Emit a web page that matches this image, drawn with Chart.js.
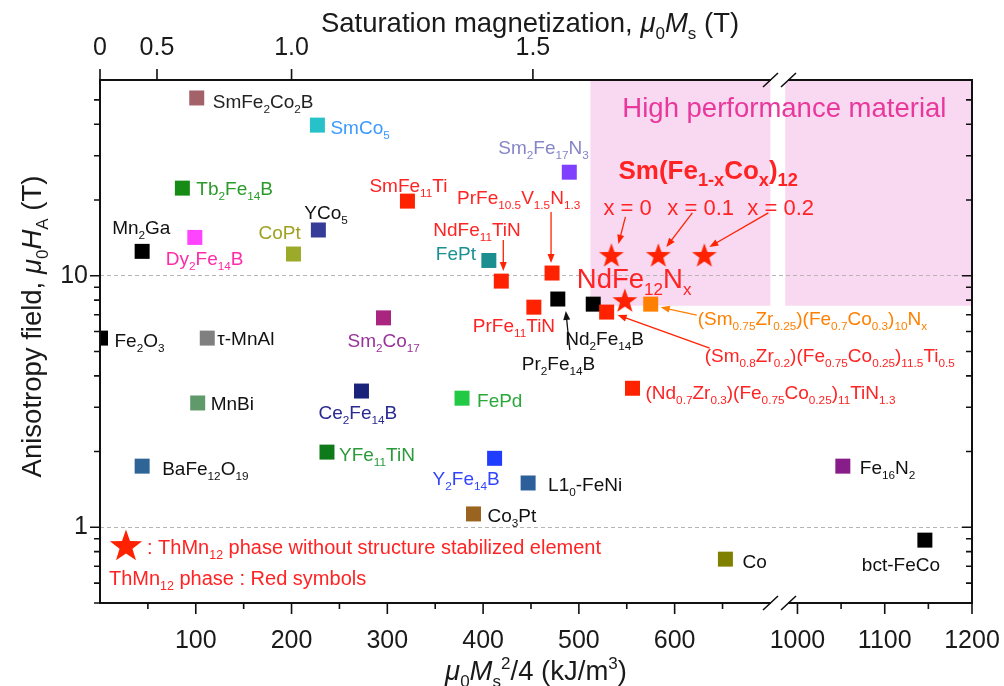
<!DOCTYPE html>
<html><head><meta charset="utf-8">
<script src="https://cdn.jsdelivr.net/npm/chart.js@4.4.1/dist/chart.umd.min.js"></script>
<style>html,body{margin:0;padding:0;background:#fff;}canvas{display:block;}</style>
</head><body>
<canvas id="c" width="1004" height="686"></canvas>
<script>
// ---------------- DATA ----------------
// materials on the left (0 – 700 kJ/m3) part of the broken x axis
const lowMsNames = ['SmFe_{2}Co_{2}B','SmCo_{5}','Tb_{2}Fe_{14}B','Mn_{2}Ga','Dy_{2}Fe_{14}B','CoPt','YCo_{5}','SmFe_{11}Ti','FePt','Sm_{2}Co_{17}',
  'Fe_{2}O_{3}','τ-MnAl','Sm_{2}Fe_{17}N_{3}','NdFe_{11}TiN','PrFe_{10.5}V_{1.5}N_{1.3}','Pr_{2}Fe_{14}B','PrFe_{11}TiN','Nd_{2}Fe_{14}B',
  '(Sm_{0.8}Zr_{0.2})(Fe_{0.75}Co_{0.25})_{11.5}Ti_{0.5}','(Sm_{0.75}Zr_{0.25})(Fe_{0.7}Co_{0.3})_{10}N_{x}','(Nd_{0.7}Zr_{0.3})(Fe_{0.75}Co_{0.25})_{11}TiN_{1.3}',
  'MnBi','Ce_{2}Fe_{14}B','FePd','YFe_{11}TiN','BaFe_{12}O_{19}','Y_{2}Fe_{14}B','L1_{0}-FeNi','Co_{3}Pt','Co'];
const lowMsEnergy = [101,227,86,44,99,202,228,321,406,296, 0.5,112,490,419,472,478,453,515, 529,575,556, 102,273,378,237,44,412,447,390,653];
const lowMsField  = [50.9,39.7,22.3,12.5,14.2,12.2,15.2,19.8,11.5,6.8, 5.65,5.65,25.8,9.52,10.25,8.08,7.5,7.71, 7.17,7.71,3.57, 3.12,3.48,3.26,1.99,1.75,1.88,1.5,1.13,0.747];
// materials on the right (1000 – 1200 kJ/m3) part
const highMsNames = ['Fe_{16}N_{2}','bct-FeCo'];
const highMsEnergy = [1052,1146];
const highMsField = [1.75,0.889];
// ThMn12 phases without stabilising element (stars)
const starNames = ['NdFe_{12}N_{x}','x = 0','x = 0.1','x = 0.2'];
const starEnergy = [548,534,583,631];
const starField = [8.0,12.1,12.1,12.1];
// axis ticks
const yTickValues = [0.5,0.6,0.7,0.8,0.9,1,2,3,4,5,6,7,8,9,10,20,30,40,50];
const yTickLabels = {1:'1',10:'10'};
const xLowTicks = [50,100,150,200,250,300,350,400,450,500,550,600,650];
const xLowLabels = {100:'100',200:'200',300:'300',400:'400',500:'500',600:'600'};
const xHighTicks = [1000,1050,1100,1150,1200];
const xHighLabels = {1000:'1000',1100:'1100',1200:'1200'};
const topTickPositions = [0,59.5,200,452];   // kJ/m3 positions of the Ms ticks
const topTickLabels = ['0','0.5','1.0','1.5'];
// high performance region (Ms > 1.6 T, HA > ~7.6 T)
const pinkStart = 512, pinkGapStart = 700, pinkGapEnd = 986, pinkFloor = 7.6;

// ---------------- STYLES ----------------
const RED = '#ff2200', RED_T = '#ff2323';
const squareColors = ['#a3626a','#27c1c9','#168c16','#000000','#ff44ff','#9caa2a','#343c98',RED,'#1b8f8f','#aa2580',
  '#000000','#808080','#8040ff',RED,RED,'#000000',RED,'#000000',RED,'#ff8000',RED,
  '#609a6b','#1a237a','#22c944','#0f7a1a','#2f6496','#1f3cff','#2d5f9a','#9a6420','#808000'];
const labelColors = ['#222','#3a9aff','#2a9a2a','#111','#ff2aa8','#a0a020','#111',RED_T,'#1a9090','#993399',
  '#111','#111','#8585c8',RED_T,RED_T,'#111',RED_T,'#111',RED_T,'#ff8000',RED_T,
  '#111','#2a2a90','#2aa83a','#2a9a3a','#111','#3344ff','#111','#111','#111'];
const labelOffsets = [[16,3],[13,2],[14,0],[-30,-24],[-29,21],[-35,-22],[-14,-18],[-38,-16],[-53,-7],[-36,22],
  [14,2],[10,0],[-71,-25],[-68,-52],[-95,-76],[-36,64],[-61,18],[-28,34],[98,43],[47,14],[13,4],
  [13,0],[-43,21],[15,2],[12,2],[20,2],[-62,20],[20,1],[14,1],[17,2]];
const lowArrows = {13:[[2,-41],[2,-10],RED], 14:[[-1,-61],[-1,-10],RED], 15:[[12,51],[8,12],'#111'],
  18:[[103,36],[11,3],RED], 19:[[46,11],[10,3],'#ff8000']};
const highColors = ['#881c88','#000000'];
const highLabelOffsets = [[17,1],[-63,24]];
const starLabelOffsets = [[-48,-22],[-8,-48],[9,-48],[43,-48]];
const starLabelSizes = [27.5,22,22,22];
const starArrows = {1:[[14,-38],[7,-11]], 2:[[34,-42],[8,-8]], 3:[[64,-42],[5,-8]]};

const FAMILY = "'Liberation Sans', Arial, Helvetica, sans-serif";
function fontStr(size, italic, bold){ return (italic?'italic ':'')+(bold?'bold ':'')+size+'px '+FAMILY; }
function parseRich(s){
  const segs=[]; let i=0, buf='';
  while(i<s.length){
    const c=s[i];
    if((c==='_'||c==='^'||c==='*') && s[i+1]==='{'){
      if(buf){segs.push({t:buf,k:'n'});buf='';}
      const j=s.indexOf('}',i+2);
      segs.push({t:s.slice(i+2,j),k:c==='_'?'sub':c==='^'?'sup':'it'});
      i=j+1;
    } else {buf+=c;i++;}
  }
  if(buf) segs.push({t:buf,k:'n'});
  return segs;
}
function drawRich(ctx, s, x, cy, size, color, align, bold, subScale){
  const ss = subScale || 0.62;
  const segs=parseRich(s); let w=0;
  const parts=segs.map(sg=>{
    const small = sg.k==='sub'||sg.k==='sup';
    const f=fontStr(small?size*ss:size, sg.k==='it', bold);
    ctx.font=f; const wd=ctx.measureText(sg.t).width; w+=wd;
    return {t:sg.t,f,wd,dy: sg.k==='sub'? size*0.26 : sg.k==='sup'? -size*0.4 : 0};
  });
  let px = align==='center'? x-w/2 : align==='right'? x-w : x;
  const base = cy + size*0.36;
  ctx.fillStyle=color; ctx.textBaseline='alphabetic'; ctx.textAlign='left';
  for(const p of parts){ ctx.font=p.f; ctx.fillText(p.t,px,base+p.dy); px+=p.wd; }
}
function arrow(ctx,x1,y1,x2,y2,color){
  const a=Math.atan2(y2-y1,x2-x1), L=9, W=3.5;
  ctx.strokeStyle=color; ctx.fillStyle=color; ctx.lineWidth=1.3;
  ctx.beginPath(); ctx.moveTo(x1,y1); ctx.lineTo(x2-L*0.7*Math.cos(a), y2-L*0.7*Math.sin(a)); ctx.stroke();
  ctx.beginPath(); ctx.moveTo(x2,y2);
  ctx.lineTo(x2-L*Math.cos(a)+W*Math.sin(a), y2-L*Math.sin(a)-W*Math.cos(a));
  ctx.lineTo(x2-L*Math.cos(a)-W*Math.sin(a), y2-L*Math.sin(a)+W*Math.cos(a));
  ctx.closePath(); ctx.fill();
}
function starPath(g, cx, cy, R){
  g.beginPath();
  for(let k=0;k<10;k++){ const r=k%2?R*0.4:R; const a=-Math.PI/2+k*Math.PI/5; g.lineTo(cx+r*Math.cos(a), cy+R*0.095+r*Math.sin(a)); }
  g.closePath();
}
function makeStar(R,color){
  const c=document.createElement('canvas'); const s=Math.ceil(2*R+2); c.width=s; c.height=s;
  const g=c.getContext('2d'); g.fillStyle=color; starPath(g,s/2,s/2,R); g.fill(); return c;
}
const starImg = makeStar(13, RED);

const annotate = {
  id:'annotate',
  beforeDraw(chart){
    const {ctx, chartArea:a, scales} = chart;
    const y=scales.y, x=scales.x, x2=scales.x2;
    ctx.save();
    ctx.fillStyle='#f9d9f1';
    const yb=y.getPixelForValue(pinkFloor);
    const p1=x.getPixelForValue(pinkStart), p2=x.getPixelForValue(pinkGapStart), p3=x2.getPixelForValue(pinkGapEnd);
    ctx.fillRect(p1,a.top,p2-p1,yb-a.top);
    ctx.fillRect(p3,a.top,a.right-p3,yb-a.top);
    drawRich(ctx,'High performance material',p1+32,a.top+27,27.5,'#e8389c','left');
    ctx.restore();
  },
  afterDatasetsDraw(chart){
    const {ctx, chartArea:a, scales} = chart;
    const y=scales.y, x=scales.x, x2=scales.x2, xt=scales.xt;
    ctx.save();
    // frame
    ctx.strokeStyle='#111'; ctx.lineWidth=2;
    ctx.strokeRect(a.left,a.top,a.right-a.left,a.bottom-a.top);
    ctx.lineWidth=1.6; ctx.beginPath();
    for(const v of yTickValues){
      const py=y.getPixelForValue(v); const L=(v===1||v===10)?10:6;
      ctx.moveTo(a.left-L,py); ctx.lineTo(a.left,py);
      ctx.moveTo(a.right-L,py); ctx.lineTo(a.right,py);
    }
    for(const v of xLowTicks){ const px=x.getPixelForValue(v); const L=v%100===0?11:6; ctx.moveTo(px,a.bottom); ctx.lineTo(px,a.bottom+L); }
    for(const v of xHighTicks){ const px=x2.getPixelForValue(v); const L=v%100===0?11:6; ctx.moveTo(px,a.bottom); ctx.lineTo(px,a.bottom+L); }
    for(const v of topTickPositions){ const px=xt.getPixelForValue(v); ctx.moveTo(px,a.top); ctx.lineTo(px,a.top-11); }
    ctx.stroke();
    // axis breaks
    const bx = x.right;
    for(const by of [a.top,a.bottom]){
      ctx.fillStyle='#fff'; ctx.fillRect(bx-9,by-2,17,4);
      ctx.strokeStyle='#111'; ctx.lineWidth=1.6; ctx.beginPath();
      ctx.moveTo(bx-17,by+7); ctx.lineTo(bx-2,by-7);
      ctx.moveTo(bx+1,by+7); ctx.lineTo(bx+16,by-7);
      ctx.stroke();
    }
    // labels of squares
    const m0=chart.getDatasetMeta(0).data, m1=chart.getDatasetMeta(1).data, m2=chart.getDatasetMeta(2).data;
    m0.forEach((pt,i)=>{
      const o=labelOffsets[i];
      drawRich(ctx,lowMsNames[i],pt.x+o[0],pt.y+o[1],19,labelColors[i],'left');
      const ar=lowArrows[i];
      if(ar) arrow(ctx,pt.x+ar[0][0],pt.y+ar[0][1],pt.x+ar[1][0],pt.y+ar[1][1],ar[2]);
    });
    m1.forEach((pt,i)=>{
      const o=highLabelOffsets[i];
      drawRich(ctx,highMsNames[i],pt.x+o[0],pt.y+o[1],19,'#111','left');
    });
    m2.forEach((pt,i)=>{
      const o=starLabelOffsets[i];
      drawRich(ctx,starNames[i],pt.x+o[0],pt.y+o[1],starLabelSizes[i],RED_T,'left');
      const ar=starArrows[i];
      if(ar) arrow(ctx,pt.x+ar[0][0],pt.y+ar[0][1],pt.x+ar[1][0],pt.y+ar[1][1],RED);
    });
    const s1=m2[1];
    drawRich(ctx,'Sm(Fe_{1-x}Co_{x})_{12}',s1.x+7,s1.y-85,26,RED_T,'left',true,0.7);
    // legend notes
    ctx.fillStyle=RED; starPath(ctx,a.left+26,a.bottom-58,17); ctx.fill();
    drawRich(ctx,': ThMn_{12} phase without structure stabilized element',a.left+47,a.bottom-56,20,RED_T,'left');
    drawRich(ctx,'ThMn_{12} phase : Red symbols',a.left+9,a.bottom-25,20,RED_T,'left');
    ctx.restore();
  },
  afterDraw(chart){
    const {ctx, chartArea:a} = chart;
    ctx.save();
    const cx=(a.left+a.right)/2;
    drawRich(ctx,'Saturation magnetization, *{μ}_{0}*{M}_{s} (T)',cx-6,a.top-58,27.5,'#1a1a1a','center');
    drawRich(ctx,'*{μ}_{0}*{M}_{s}^{2}/4 (kJ/m^{3})',cx,a.bottom+67,27.5,'#1a1a1a','center');
    ctx.translate(31,(a.top+a.bottom)/2-15); ctx.rotate(-Math.PI/2);
    drawRich(ctx,'Anisotropy field, *{μ}_{0}*{H}_{A} (T)',0,0,27.5,'#1a1a1a','center');
    ctx.restore();
  }
};

const tickFont = {family: FAMILY, size: 25};
const hidden = {display:false};
function fitX(h){ return s=>{ s.height=h; s.paddingLeft=0; s.paddingRight=0; }; }
new Chart(document.getElementById('c'), {
  type:'scatter',
  data:{datasets:[
    {data: lowMsEnergy.map((v,i)=>({x:v,y:lowMsField[i]})), xAxisID:'x', yAxisID:'y', pointStyle:'rect', pointRadius:10.6, pointBorderWidth:0,
      pointBackgroundColor:squareColors, backgroundColor:squareColors, borderColor:squareColors, clip:0},
    {data: highMsEnergy.map((v,i)=>({x:v,y:highMsField[i]})), xAxisID:'x2', yAxisID:'y', pointStyle:'rect', pointRadius:10.6, pointBorderWidth:0,
      pointBackgroundColor:highColors, backgroundColor:highColors, borderColor:highColors, clip:0},
    {data: starEnergy.map((v,i)=>({x:v,y:starField[i]})), xAxisID:'x', yAxisID:'y', pointStyle:starImg, pointRadius:12, clip:0}
  ]},
  options:{
    responsive:false, animation:false, events:[],
    layout:{padding:{left:0,right:32,top:0,bottom:0}},
    plugins:{legend:{display:false}, tooltip:{enabled:false}},
    scales:{
      x:{type:'linear', position:'bottom', stack:'bot', stackWeight:680, min:0, max:710, bounds:'data',
        afterBuildTicks:s=>{s.ticks=xLowTicks.map(v=>({value:v}));}, afterFit:fitX(83),
        ticks:{font:tickFont, color:'#1a1a1a', padding:15, autoSkip:false, maxRotation:0, callback:v=>xLowLabels[v]||''},
        grid:{display:false}, border:hidden},
      x2:{type:'linear', position:'bottom', stack:'bot', stackWeight:192, min:980, max:1200, bounds:'data',
        afterBuildTicks:s=>{s.ticks=xHighTicks.map(v=>({value:v}));}, afterFit:fitX(83),
        ticks:{font:tickFont, color:'#1a1a1a', padding:15, autoSkip:false, maxRotation:0, callback:v=>xHighLabels[v]||''},
        grid:{display:false}, border:hidden},
      xt:{type:'linear', position:'top', stack:'top', stackWeight:680, weight:1, min:0, max:710, bounds:'data',
        afterBuildTicks:s=>{s.ticks=topTickPositions.map(v=>({value:v}));}, afterFit:fitX(80),
        ticks:{font:tickFont, color:'#1a1a1a', padding:9, autoSkip:false, maxRotation:0, callback:(v,i)=>topTickLabels[i]},
        grid:{display:false}, border:hidden},
      xt2:{type:'linear', position:'top', stack:'top', stackWeight:192, weight:0, min:980, max:1200, bounds:'data',
        afterBuildTicks:s=>{s.ticks=[];}, afterFit:fitX(80),
        ticks:{display:false}, grid:{display:false}, border:hidden},
      y:{type:'logarithmic', position:'left', min:0.5, max:60, bounds:'data',
        afterBuildTicks:s=>{s.ticks=yTickValues.map(v=>({value:v}));}, afterFit:s=>{s.width=100; s.paddingTop=0; s.paddingBottom=0;},
        ticks:{font:tickFont, color:'#1a1a1a', padding:12, autoSkip:false, callback:v=>yTickLabels[v]||''},
        grid:{drawTicks:false, lineWidth:1, color:c=>(c.tick&&(c.tick.value===1||c.tick.value===10))?'#b5b5b5':'rgba(0,0,0,0)'},
        border:{display:false, dash:[4,3]}}
    }
  },
  plugins:[annotate]
});
</script>
</body></html>
